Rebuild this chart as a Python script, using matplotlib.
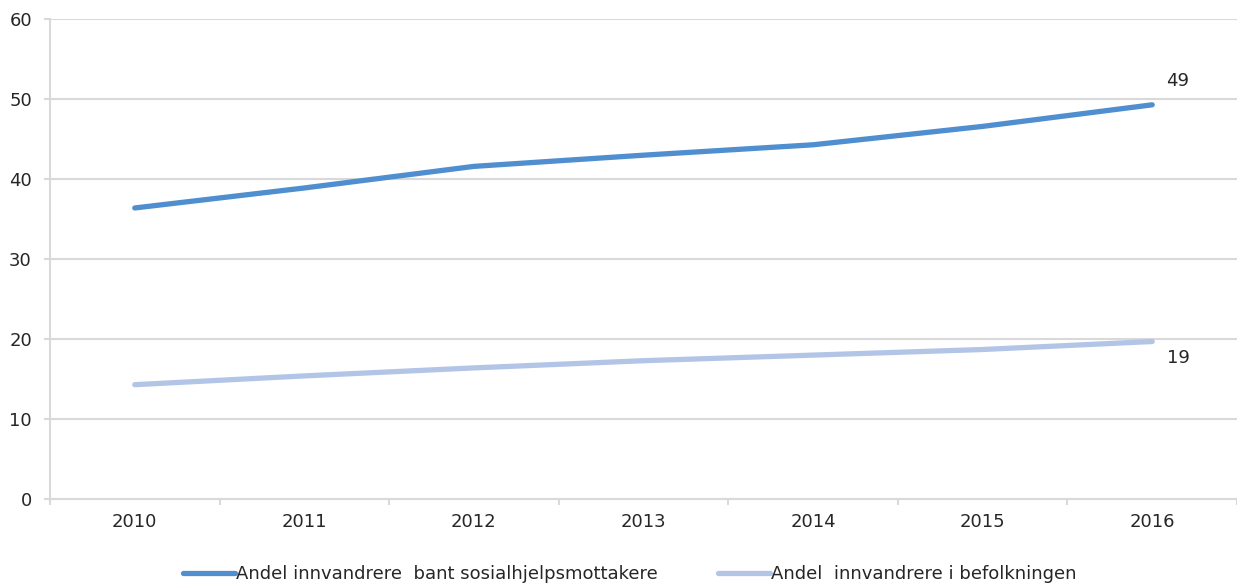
import matplotlib
matplotlib.use("Agg")
import matplotlib.pyplot as plt
from matplotlib.ticker import FixedLocator

years = ["2010", "2011", "2012", "2013", "2014", "2015", "2016"]
andel_sosialhjelp = [36.4, 38.9, 41.6, 43.0, 44.3, 46.6, 49.3]
andel_befolkning = [14.3, 15.4, 16.4, 17.3, 18.0, 18.7, 19.7]
label_sosialhjelp = "Andel innvandrere  bant sosialhjelpsmottakere"
label_befolkning = "Andel  innvandrere i befolkningen"
end_labels = ["49", "19"]

grid_col = "#d9d9d9"
text_col = "#262626"
fs = 13

fig = plt.figure(figsize=(12.37, 5.83), dpi=100)
ax = fig.add_axes([0.0404, 0.144, 0.9596, 0.823])

x = list(range(len(years)))
l1, = ax.plot(x, andel_sosialhjelp, color="#4f8fcf", lw=3.8,
              solid_capstyle="round", label=label_sosialhjelp, zorder=3)
l2, = ax.plot(x, andel_befolkning, color="#b3c5e6", lw=3.8,
              solid_capstyle="round", label=label_befolkning, zorder=3)

ax.annotate(end_labels[0], (x[-1], andel_sosialhjelp[-1]), xytext=(18, 17),
            textcoords="offset points", fontsize=fs, color=text_col,
            ha="center", va="center")
ax.annotate(end_labels[1], (x[-1], andel_befolkning[-1]), xytext=(19, -12),
            textcoords="offset points", fontsize=fs, color=text_col,
            ha="center", va="center")

ax.set_ylim(0, 60)
ax.set_yticks(range(0, 61, 10))
ax.set_xlim(-0.5, len(years) - 0.5)
ax.set_xticks(x)
ax.set_xticklabels(years)
ax.xaxis.set_minor_locator(FixedLocator([i - 0.5 for i in range(len(years) + 1)]))

ax.grid(axis="y", color=grid_col, lw=1.5, zorder=0)
ax.set_axisbelow(True)
for s in ["top", "right"]:
    ax.spines[s].set_visible(False)
for s in ["left", "bottom"]:
    ax.spines[s].set_color(grid_col)
    ax.spines[s].set_linewidth(1.5)

ax.tick_params(axis="y", length=4, width=1.5, color=grid_col, labelsize=fs,
               labelcolor=text_col, pad=9)
ax.tick_params(axis="x", which="major", length=0, labelsize=fs,
               labelcolor=text_col, pad=10)
ax.tick_params(axis="x", which="minor", length=4, width=1.5, color=grid_col)

fig.legend(handles=[l1, l2], loc="center", bbox_to_anchor=(0.509, 0.015),
           ncol=2, frameon=False, fontsize=fs, handlelength=2.9,
           handletextpad=0.05, columnspacing=3.3, labelcolor=text_col)

fig.savefig("out.png", dpi=100)
